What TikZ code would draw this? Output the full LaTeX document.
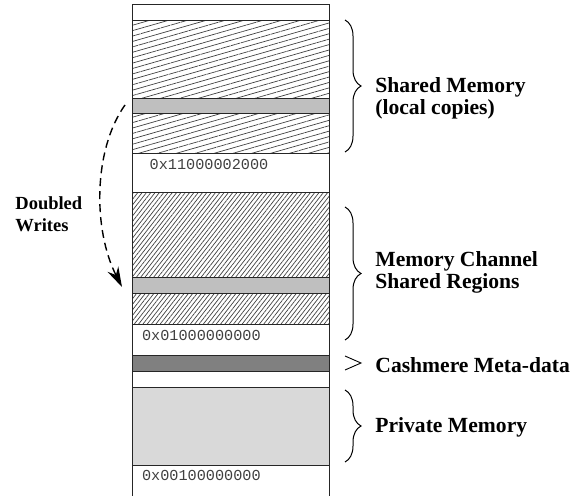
\documentclass[tikz,border=0pt]{standalone}
\usepackage{fontspec}
\setmainfont{Liberation Serif}
\setmonofont{Liberation Mono}
\usetikzlibrary{patterns.meta,decorations.pathreplacing,arrows.meta}

\begin{document}
\begin{tikzpicture}[x=0.5pt,y=-0.5pt,
		wall/.style={line width=0.5pt,draw=black!85},
		sparse/.style={wall,pattern={Lines[angle=16,distance=2.6pt,line width=0.35pt]},pattern color=black!75},
		dense/.style={wall,pattern={Lines[angle=52,distance=1.7pt,line width=0.35pt]},pattern color=black!75},
		band/.style={wall,fill=black!25},
		addr/.style={anchor=west,inner sep=0pt,font=\fontsize{7.6}{9}\ttfamily,text=black!75},
		tag/.style={anchor=west,inner sep=0pt,align=left,font=\fontsize{10.8}{9.4}\selectfont\bfseries},
		curly/.style={decorate,decoration={brace,amplitude=8pt},line width=0.5pt}]
	\useasboundingbox (0,0) rectangle (583,496);
	% address space, top to bottom
	\draw[wall] (132.5,496) -- (132.5,5) -- (329.5,5) -- (329.5,496);
	\draw[sparse] (132.5,20.7) rectangle (329.5,154);
	\draw[band] (132.5,98.3) rectangle (329.5,114);
	\draw[dense] (132.5,192.3) rectangle (329.5,324.3);
	\draw[band] (132.5,277.3) rectangle (329.5,293.3);
	\draw[wall,fill=black!50] (132.5,356) rectangle (329.5,371.3);
	\draw[wall,fill=black!15] (132.5,387.3) rectangle (329.5,465);

	\node[addr] (hiaddr) at (149.3,164) {0x11000002000};
	\node[addr] (mcaddr) at (141.7,335) {0x01000000000};
	\node[addr] (lowaddr) at (141.7,475.7) {0x00100000000};

	% regions
	\draw[curly] (345,20) -- (345,152);
	\draw[curly] (345,207) -- (345,340);
	\draw[curly] (345,390) -- (345,462);
	\draw[line width=0.45pt] (345,356) -- (361,363) -- (345,370);

	\node[tag] (local) at (375,98) {Shared Memory\\(local copies)};
	\node[tag] (mcregions) at (375,272.5) {Memory Channel\\Shared Regions};
	\node[tag] (meta) at (375,365) {Cashmere Meta-data};
	\node[tag] (private) at (375,427) {Private Memory};

	% doubled writes
	\coordinate (wfrom) at (125,105);
	\coordinate (wto) at (122,287);
	\draw[dash pattern=on 4pt off 2.5pt,line width=0.7pt,-{Stealth[length=10pt,width=6pt]}]
		(wfrom) .. controls (93,150) and (93,230) .. (wto);
	\node[tag,font=\fontsize{9.25}{10.85}\selectfont\bfseries] (writes) at (15,214) {Doubled\\Writes};
\end{tikzpicture}
\end{document}
